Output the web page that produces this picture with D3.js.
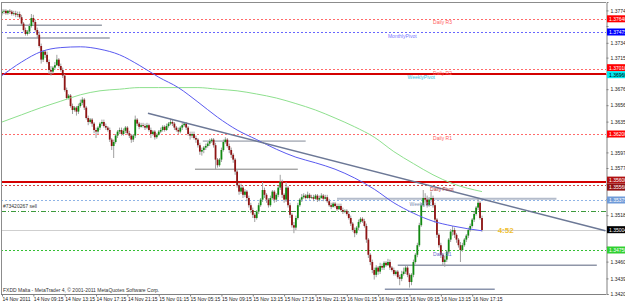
<!DOCTYPE html>
<html><head><meta charset="utf-8">
<script src="https://cdn.jsdelivr.net/npm/d3@7"></script>
<style>
html,body{margin:0;padding:0;background:#fff;}
svg{display:block;font-family:"Liberation Sans",Arial,sans-serif;}
</style></head><body>
<svg id="chart" width="625" height="304"></svg>
<script>
// M15 candles, 14 Nov 05:15 .. 16 Nov 18:30  [open, high, low, close]
const candles = [
[1.3771,1.3776,1.3768,1.3773],[1.3773,1.3776,1.3770,1.3774],[1.3774,1.3776,1.3769,1.3771],[1.3771,1.3775,1.3769,1.3774],
[1.3774,1.3776,1.3770,1.3773],[1.3773,1.3775,1.3768,1.3770],[1.3770,1.3774,1.3768,1.3771],[1.3771,1.3774,1.3766,1.3769],
[1.3769,1.3773,1.3766,1.3770],[1.3770,1.3773,1.3764,1.3766],[1.3766,1.3769,1.3755,1.3758],[1.3758,1.3760,1.3748,1.3750],
[1.3750,1.3753,1.3743,1.3745],[1.3745,1.3750,1.3743,1.3748],[1.3748,1.3758,1.3745,1.3755],[1.3755,1.3770,1.3753,1.3765],
[1.3765,1.3769,1.3758,1.3760],[1.3760,1.3763,1.3748,1.3750],[1.3750,1.3753,1.3740,1.3744],[1.3744,1.3748,1.3728,1.3730],
[1.3730,1.3733,1.3708,1.3713],[1.3713,1.3725,1.3710,1.3723],[1.3723,1.3725,1.3715,1.3719],[1.3719,1.3723,1.3708,1.3710],
[1.3710,1.3713,1.3695,1.3700],[1.3700,1.3705,1.3693,1.3698],[1.3698,1.3705,1.3695,1.3703],[1.3703,1.3710,1.3700,1.3706],
[1.3706,1.3719,1.3705,1.3713],[1.3713,1.3715,1.3703,1.3705],[1.3705,1.3708,1.3698,1.3700],[1.3700,1.3703,1.3690,1.3693],
[1.3693,1.3695,1.3673,1.3675],[1.3675,1.3678,1.3663,1.3665],[1.3665,1.3670,1.3663,1.3668],[1.3668,1.3670,1.3653,1.3655],
[1.3655,1.3658,1.3645,1.3650],[1.3650,1.3655,1.3648,1.3653],[1.3653,1.3655,1.3643,1.3648],[1.3648,1.3658,1.3645,1.3655],
[1.3655,1.3663,1.3653,1.3659],[1.3659,1.3666,1.3656,1.3663],[1.3663,1.3665,1.3650,1.3653],[1.3653,1.3655,1.3638,1.3640],
[1.3640,1.3643,1.3631,1.3635],[1.3635,1.3640,1.3633,1.3638],[1.3638,1.3640,1.3629,1.3633],[1.3633,1.3635,1.3621,1.3625],
[1.3625,1.3628,1.3615,1.3623],[1.3623,1.3630,1.3620,1.3628],[1.3628,1.3635,1.3625,1.3633],[1.3633,1.3638,1.3630,1.3635],
[1.3635,1.3638,1.3628,1.3630],[1.3630,1.3633,1.3625,1.3628],[1.3628,1.3630,1.3623,1.3625],[1.3625,1.3628,1.3610,1.3613],
[1.3613,1.3615,1.3600,1.3605],[1.3605,1.3613,1.3590,1.3610],[1.3610,1.3620,1.3608,1.3618],[1.3618,1.3625,1.3615,1.3623],
[1.3623,1.3628,1.3620,1.3625],[1.3625,1.3628,1.3618,1.3620],[1.3620,1.3627,1.3618,1.3624],[1.3624,1.3630,1.3621,1.3628],
[1.3628,1.3630,1.3619,1.3621],[1.3621,1.3624,1.3615,1.3618],[1.3618,1.3620,1.3609,1.3613],[1.3613,1.3620,1.3610,1.3618],
[1.3618,1.3643,1.3615,1.3638],[1.3638,1.3640,1.3630,1.3633],[1.3633,1.3635,1.3626,1.3629],[1.3629,1.3634,1.3628,1.3631],
[1.3631,1.3634,1.3628,1.3630],[1.3630,1.3633,1.3625,1.3628],[1.3628,1.3634,1.3626,1.3631],[1.3631,1.3633,1.3623,1.3625],
[1.3625,1.3628,1.3615,1.3620],[1.3620,1.3625,1.3618,1.3623],[1.3623,1.3625,1.3613,1.3616],[1.3616,1.3621,1.3614,1.3619],
[1.3619,1.3625,1.3618,1.3623],[1.3623,1.3628,1.3621,1.3625],[1.3625,1.3631,1.3623,1.3629],[1.3629,1.3631,1.3623,1.3625],
[1.3625,1.3633,1.3624,1.3630],[1.3630,1.3635,1.3628,1.3633],[1.3633,1.3639,1.3631,1.3635],[1.3635,1.3638,1.3630,1.3633],
[1.3633,1.3635,1.3625,1.3628],[1.3628,1.3630,1.3623,1.3625],[1.3625,1.3628,1.3620,1.3623],[1.3623,1.3630,1.3621,1.3628],
[1.3628,1.3634,1.3625,1.3631],[1.3631,1.3635,1.3629,1.3633],[1.3633,1.3635,1.3625,1.3628],[1.3628,1.3630,1.3618,1.3620],
[1.3620,1.3623,1.3613,1.3618],[1.3618,1.3623,1.3615,1.3620],[1.3620,1.3623,1.3613,1.3615],[1.3615,1.3618,1.3609,1.3613],
[1.3613,1.3615,1.3603,1.3606],[1.3606,1.3609,1.3594,1.3598],[1.3598,1.3603,1.3593,1.3600],[1.3600,1.3605,1.3596,1.3603],
[1.3603,1.3608,1.3600,1.3605],[1.3605,1.3610,1.3603,1.3608],[1.3608,1.3614,1.3605,1.3611],[1.3611,1.3615,1.3609,1.3613],
[1.3613,1.3615,1.3603,1.3606],[1.3606,1.3609,1.3576,1.3588],[1.3588,1.3590,1.3578,1.3581],[1.3581,1.3590,1.3579,1.3588],
[1.3588,1.3603,1.3585,1.3600],[1.3600,1.3613,1.3598,1.3610],[1.3610,1.3616,1.3608,1.3613],[1.3613,1.3615,1.3603,1.3605],
[1.3605,1.3608,1.3596,1.3600],[1.3600,1.3603,1.3590,1.3594],[1.3594,1.3596,1.3584,1.3588],[1.3588,1.3590,1.3569,1.3573],
[1.3573,1.3575,1.3553,1.3556],[1.3556,1.3559,1.3544,1.3548],[1.3548,1.3558,1.3545,1.3553],[1.3553,1.3555,1.3540,1.3544],
[1.3544,1.3551,1.3541,1.3548],[1.3548,1.3550,1.3536,1.3540],[1.3540,1.3543,1.3528,1.3531],[1.3531,1.3534,1.3521,1.3525],
[1.3525,1.3528,1.3515,1.3519],[1.3519,1.3521,1.3510,1.3515],[1.3515,1.3525,1.3513,1.3523],[1.3523,1.3534,1.3520,1.3531],
[1.3531,1.3540,1.3529,1.3538],[1.3538,1.3560,1.3535,1.3550],[1.3550,1.3553,1.3540,1.3544],[1.3544,1.3546,1.3534,1.3538],
[1.3538,1.3540,1.3528,1.3531],[1.3531,1.3543,1.3529,1.3540],[1.3540,1.3550,1.3538,1.3548],[1.3548,1.3550,1.3534,1.3538],
[1.3538,1.3546,1.3535,1.3544],[1.3544,1.3555,1.3541,1.3553],[1.3553,1.3569,1.3550,1.3560],[1.3560,1.3563,1.3540,1.3544],
[1.3544,1.3546,1.3534,1.3538],[1.3538,1.3560,1.3535,1.3553],[1.3553,1.3555,1.3528,1.3531],[1.3531,1.3534,1.3515,1.3519],
[1.3519,1.3521,1.3503,1.3506],[1.3506,1.3510,1.3496,1.3503],[1.3503,1.3518,1.3500,1.3515],[1.3515,1.3534,1.3513,1.3531],
[1.3531,1.3540,1.3529,1.3538],[1.3538,1.3545,1.3535,1.3541],[1.3541,1.3546,1.3539,1.3543],[1.3543,1.3545,1.3538,1.3540],
[1.3540,1.3548,1.3539,1.3544],[1.3544,1.3546,1.3538,1.3540],[1.3540,1.3544,1.3539,1.3541],[1.3541,1.3544,1.3536,1.3539],
[1.3539,1.3545,1.3538,1.3543],[1.3543,1.3545,1.3535,1.3538],[1.3538,1.3543,1.3536,1.3540],[1.3540,1.3546,1.3539,1.3543],
[1.3543,1.3545,1.3536,1.3539],[1.3539,1.3544,1.3538,1.3541],[1.3541,1.3544,1.3534,1.3536],[1.3536,1.3539,1.3529,1.3531],
[1.3531,1.3534,1.3526,1.3529],[1.3529,1.3535,1.3528,1.3533],[1.3533,1.3535,1.3528,1.3530],[1.3530,1.3533,1.3524,1.3526],
[1.3526,1.3533,1.3525,1.3530],[1.3530,1.3533,1.3523,1.3525],[1.3525,1.3528,1.3520,1.3523],[1.3523,1.3526,1.3521,1.3524],
[1.3524,1.3526,1.3518,1.3520],[1.3520,1.3523,1.3513,1.3515],[1.3515,1.3518,1.3505,1.3508],[1.3508,1.3510,1.3498,1.3500],
[1.3500,1.3503,1.3491,1.3496],[1.3496,1.3505,1.3494,1.3503],[1.3503,1.3513,1.3500,1.3510],[1.3510,1.3516,1.3508,1.3514],
[1.3514,1.3516,1.3509,1.3511],[1.3511,1.3514,1.3503,1.3505],[1.3505,1.3508,1.3484,1.3488],[1.3488,1.3490,1.3465,1.3469],
[1.3469,1.3471,1.3456,1.3460],[1.3460,1.3463,1.3446,1.3450],[1.3450,1.3453,1.3438,1.3444],[1.3444,1.3456,1.3441,1.3453],
[1.3453,1.3455,1.3444,1.3448],[1.3448,1.3459,1.3445,1.3455],[1.3455,1.3458,1.3450,1.3453],[1.3453,1.3461,1.3450,1.3459],
[1.3459,1.3461,1.3454,1.3456],[1.3456,1.3464,1.3455,1.3460],[1.3460,1.3463,1.3450,1.3453],[1.3453,1.3455,1.3448,1.3450],
[1.3450,1.3453,1.3443,1.3445],[1.3445,1.3450,1.3443,1.3448],[1.3448,1.3450,1.3439,1.3441],[1.3441,1.3444,1.3431,1.3439],
[1.3439,1.3449,1.3436,1.3445],[1.3445,1.3453,1.3443,1.3448],[1.3448,1.3455,1.3445,1.3453],[1.3453,1.3455,1.3441,1.3444],
[1.3444,1.3446,1.3428,1.3435],[1.3435,1.3446,1.3431,1.3444],[1.3444,1.3463,1.3441,1.3460],[1.3460,1.3471,1.3458,1.3469],
[1.3469,1.3484,1.3466,1.3481],[1.3481,1.3509,1.3479,1.3506],[1.3506,1.3534,1.3504,1.3531],[1.3531,1.3550,1.3529,1.3540],
[1.3540,1.3546,1.3534,1.3538],[1.3538,1.3543,1.3528,1.3531],[1.3531,1.3541,1.3529,1.3538],[1.3538,1.3548,1.3535,1.3540],
[1.3540,1.3543,1.3528,1.3531],[1.3531,1.3534,1.3509,1.3513],[1.3513,1.3515,1.3490,1.3494],[1.3494,1.3496,1.3478,1.3481],
[1.3481,1.3484,1.3465,1.3469],[1.3469,1.3471,1.3456,1.3460],[1.3460,1.3468,1.3454,1.3463],[1.3463,1.3475,1.3460,1.3473],
[1.3473,1.3490,1.3470,1.3488],[1.3488,1.3501,1.3485,1.3498],[1.3498,1.3505,1.3493,1.3500],[1.3500,1.3503,1.3490,1.3494],
[1.3494,1.3496,1.3484,1.3488],[1.3488,1.3490,1.3478,1.3481],[1.3481,1.3485,1.3460,1.3475],[1.3475,1.3484,1.3473,1.3481],
[1.3481,1.3490,1.3479,1.3488],[1.3488,1.3495,1.3485,1.3493],[1.3493,1.3503,1.3490,1.3500],[1.3500,1.3508,1.3498,1.3505],
[1.3505,1.3515,1.3503,1.3513],[1.3513,1.3523,1.3510,1.3520],[1.3520,1.3530,1.3518,1.3528],[1.3528,1.3540,1.3525,1.3534],
[1.3534,1.3536,1.3513,1.3515],[1.3515,1.3518,1.3498,1.3500]
];

const timeLabels = ["14 Nov 2011","14 Nov 09:15","14 Nov 13:15","14 Nov 17:15","14 Nov 21:15","15 Nov 01:15",
  "15 Nov 05:15","15 Nov 09:15","15 Nov 13:15","15 Nov 17:15","15 Nov 21:15","16 Nov 01:15","16 Nov 05:15",
  "16 Nov 09:15","16 Nov 13:15","16 Nov 17:15"];
const priceTicks = [1.37745,1.37550,1.37340,1.37155,1.36950,1.36760,1.36560,1.36355,1.36165,1.35970,
  1.35775,1.35575,1.35385,1.35185,1.34995,1.34790,1.34605,1.34395,1.34200];

// moving averages, read at these bar numbers
const maBars  = [0,10,20,30,40,50,60,70,80,90,100,110,120,130,140,150,160,170,180,190,200,210,220,230,245];
const maBlue  = [1.3693,1.3710,1.3723,1.3728,1.3729,1.3726,1.3719,1.3706,1.3691,1.3678,1.3660,1.3641,1.3625,
  1.3613,1.3601,1.3591,1.3584,1.3576,1.3565,1.3551,1.3534,1.3521,1.3511,1.3505,1.3499];
const maGreen = [1.3635,1.3644,1.3653,1.3661,1.3669,1.3674,1.3676,1.3678,1.3678,1.3678,1.3678,1.3676,1.3674,
  1.3670,1.3665,1.3658,1.3650,1.3640,1.3629,1.3616,1.3598,1.3583,1.3569,1.3558,1.3548];

const pivotNames  = ["Daily R3","MonthlyPivot","Daily R2","WeeklyPivot","Daily R1","Daily Pivot","WeeklyS1","Daily S1"];
const pivotPrices = [1.3764,1.37475,1.3701,1.3696,1.3620,1.3556,1.35375,1.3475];
const redLines = [1.3695,1.3560];
const orderPrice = 1.3524, orderText = "#73420267 sell";
const bidPrice = 1.35004;
const trendBars = [74.5,308], trendPrices = [1.3646,1.3499];
const segPrices = [1.3756,1.3740,1.3611,1.3576,1.3539,1.3456,1.3426];
const segFrom   = [2.5,2.5,102.5,98.5,171,202,195.4];
const segTo     = [51,55,155,151,283,303.6,251.5];
const tagPrices = [1.3764,1.37475,1.3701,1.3696,1.3620,1.3560,1.3556,1.35375,1.35004,1.3475];
const timerText = "4:52";

// styles
const pivotColor = ["#ff6a6a","#6666ff","#ff6a6a","#33c8e0","#ff6a6a","#d04040","#8fb4e6","#33c033"];
const pivotLabelColor = ["#ff5c5c","#7777ff","#ff5c5c","#30c0e0","#ff5c5c","#b03030","#7a8db0","#6a6acc"];
const pivotLabelBar = [220,197,220,207,220,218.5,208,220];
const tagColor = ["#ff0000","#0000ff","#ff0000","#00e8f0","#ff0000","#b01010","#901010","#6f9ad8","#000000","#30d030"];
const segColor = ["#9aa0aa","#9aa0aa","#b8bcc4","#808080","#b4bccb","#8f96a8","#8a94ac"];
const segWidth = [1.6,1.6,1.8,1,2,1.4,1.4];

const svg = d3.select("#chart");
const pl = 1, pr = 606, pt = 2, pb = 294;

const x = d3.scaleLinear().domain([0, 245]).range([2, 482]);
const y = d3.scaleLinear().domain([1.3420, 1.3785]).range([pb, pt]);

svg.append("rect").attr("width", 625).attr("height", 304).attr("fill", "#fff");
svg.append("defs").append("clipPath").attr("id", "plot")
  .append("rect").attr("x", pl).attr("y", pt).attr("width", pr - pl).attr("height", pb - pt);
const g = svg.append("g").attr("clip-path", "url(#plot)");

// pivot levels
pivotPrices.forEach((p, i) => {
  g.append("line").attr("x1", pl).attr("x2", pr)
    .attr("y1", Math.round(y(p)) + 0.5).attr("y2", Math.round(y(p)) + 0.5)
    .attr("stroke", pivotColor[i]).attr("stroke-width", 1).attr("stroke-dasharray", "2,2");
});
// order line
g.append("line").attr("x1", pl).attr("x2", pr)
  .attr("y1", Math.round(y(orderPrice)) + 0.5).attr("y2", Math.round(y(orderPrice)) + 0.5)
  .attr("stroke", "#3d9a3d").attr("stroke-width", 1).attr("stroke-dasharray", "5,2,1,2");
// bid line
g.append("line").attr("x1", pl).attr("x2", pr)
  .attr("y1", Math.round(y(bidPrice)) + 0.5).attr("y2", Math.round(y(bidPrice)) + 0.5)
  .attr("stroke", "#cfcfcf").attr("stroke-width", 1);
// thick red levels
redLines.forEach(p => {
  g.append("line").attr("x1", pl).attr("x2", pr).attr("y1", y(p)).attr("y2", y(p))
    .attr("stroke", "#d40000").attr("stroke-width", 2);
});

// horizontal segments
segPrices.forEach((p, i) => {
  g.append("line").attr("x1", x(segFrom[i])).attr("x2", x(segTo[i])).attr("y1", y(p)).attr("y2", y(p))
    .attr("stroke", segColor[i]).attr("stroke-width", segWidth[i]);
});

// candles
const cg = g.append("g");
cg.selectAll("line.wick").data(candles).enter().append("line")
  .attr("x1", (d, i) => x(i)).attr("x2", (d, i) => x(i))
  .attr("y1", d => y(d[1])).attr("y2", d => y(d[2]))
  .attr("stroke", "#a0a0a0").attr("stroke-width", 1);
cg.selectAll("rect.body").data(candles).enter().append("rect")
  .attr("x", (d, i) => x(i) - 0.9).attr("width", 1.8)
  .attr("y", d => y(Math.max(d[0], d[3])))
  .attr("height", d => Math.max(0.8, Math.abs(y(d[0]) - y(d[3]))))
  .attr("fill", d => d[3] >= d[0] ? "#118a11" : "#8e1414");

// moving averages
const maLine = vals => d3.line().x((d, i) => x(maBars[i])).y(d => y(d)).curve(d3.curveMonotoneX)(vals);
g.append("path").attr("d", maLine(maGreen)).attr("fill", "none").attr("stroke", "#8ee08e").attr("stroke-width", 1);
g.append("path").attr("d", maLine(maBlue)).attr("fill", "none").attr("stroke", "#5a5af0").attr("stroke-width", 1);

// trendline
g.append("line").attr("x1", x(trendBars[0])).attr("y1", y(trendPrices[0]))
  .attr("x2", x(trendBars[1])).attr("y2", y(trendPrices[1]))
  .attr("stroke", "#6c7896").attr("stroke-width", 1.4);

// level labels
pivotNames.forEach((n, i) => {
  g.append("text").attr("x", x(pivotLabelBar[i])).attr("y", y(pivotPrices[i]) + 5.5)
    .attr("font-size", 5).attr("fill", pivotLabelColor[i]).text(n);
});
g.append("text").attr("x", 3).attr("y", y(orderPrice) - 3).attr("font-size", 5).attr("fill", "#333").text(orderText);
g.append("text").attr("x", x(253)).attr("y", y(bidPrice) + 3)
  .attr("font-size", 8).attr("font-weight", "bold").attr("fill", "#f0c030").text(timerText);
g.append("text").attr("x", 3).attr("y", 292).attr("font-size", 5).attr("fill", "#333")
  .text("FXDD Malta - MetaTrader 4, \u00a9 2001-2011 MetaQuotes Software Corp.");

// frame
svg.append("line").attr("x1", pl).attr("x2", pr).attr("y1", pt + 0.5).attr("y2", pt + 0.5).attr("stroke", "#8c8c8c");
svg.append("line").attr("x1", pl + 0.5).attr("x2", pl + 0.5).attr("y1", pt).attr("y2", pb).attr("stroke", "#8c8c8c");

// price axis (tick labels sitting under a price tag are covered, as in MT4)
const ya = svg.append("g").attr("transform", "translate(" + (pr + 0.5) + ",0)")
  .call(d3.axisRight(y).tickValues(priceTicks).tickSize(2).tickPadding(2).tickFormat(d3.format(".5f")));
ya.select(".domain").attr("stroke", "#808080");
ya.selectAll(".tick line").attr("stroke", "#808080");
ya.selectAll("text").attr("font-size", 5).attr("fill", "#222").attr("font-family", "Liberation Sans, Arial");
ya.selectAll(".tick").filter(d => tagPrices.some(p => Math.abs(y(p) - y(d)) < 6.5)).select("text").remove();

// price tags, nudged apart where two would sit on top of each other
const tagY = tagPrices.map(p => y(p));
for (let k = 1; k < tagY.length; k++) {
  const gap = tagY[k] - tagY[k - 1];
  if (gap < 7) { tagY[k - 1] -= (7 - gap) / 2; tagY[k] += (7 - gap) / 2; }
}
tagPrices.forEach((p, i) => {
  const t = svg.append("g").attr("transform", "translate(" + (pr + 1) + "," + tagY[i] + ")");
  t.append("rect").attr("x", 0).attr("y", -3.5).attr("width", 22).attr("height", 7).attr("fill", tagColor[i]);
  t.append("text").attr("x", 2).attr("y", 2).attr("font-size", 5)
    .attr("fill", i === 3 ? "#000" : "#fff").text(d3.format(".5f")(p));
});

// time axis
const xa = svg.append("g").attr("transform", "translate(0," + (pb + 0.5) + ")")
  .call(d3.axisBottom(x).tickValues(d3.range(0, 241, 16)).tickSize(2).tickPadding(1)
    .tickFormat(i => timeLabels[i / 16]));
xa.select(".domain").attr("stroke", "#808080").attr("d", "M" + pl + ",0H" + pr);
xa.selectAll(".tick line").attr("stroke", "#808080");
xa.selectAll("text").attr("font-size", 5).attr("fill", "#222").attr("text-anchor", "start")
  .attr("font-family", "Liberation Sans, Arial");
</script>
</body></html>
